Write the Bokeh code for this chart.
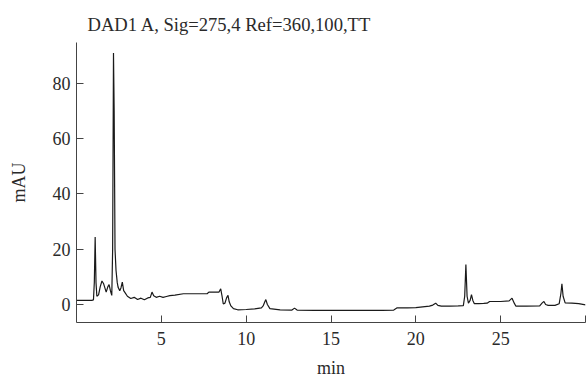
from bokeh.plotting import figure
from bokeh.models import Range1d, FixedTicker, Title
from bokeh.embed import file_html
from bokeh.resources import INLINE

# retention time (min) and absorbance (mAU)
time_min = [0.0, 0.9, 1.0, 1.05, 1.1, 1.15, 1.2, 1.3, 1.4, 1.5, 1.6, 1.75, 1.85, 1.92, 2.0, 2.08,
            2.13, 2.18, 2.22, 2.27, 2.33, 2.4, 2.45, 2.55, 2.62, 2.7, 2.78, 2.86, 3.0, 3.2, 3.4,
            3.6, 3.8, 4.0, 4.2, 4.35, 4.45, 4.55, 4.7, 4.9, 5.1, 5.3, 5.5, 5.8, 6.3, 7.0, 7.7,
            7.8, 8.4, 8.5, 8.58, 8.65, 8.75, 8.85, 8.93, 9.0, 9.1, 9.25, 9.5, 10.0, 10.5, 10.9,
            11.0, 11.1, 11.16, 11.25, 11.4, 12.0, 12.7, 12.85, 13.0, 14.0, 15.0, 16.0, 17.0,
            18.0, 18.7, 18.9, 19.5, 20.0, 20.8, 21.0, 21.17, 21.3, 21.5, 22.0, 22.5, 22.8,
            22.88, 22.95, 23.02, 23.1, 23.2, 23.28, 23.36, 23.45, 23.7, 24.0, 24.2, 24.35,
            25.0, 25.5, 25.67, 25.8, 25.9, 26.5, 27.3, 27.45, 27.55, 27.65, 27.8, 28.2, 28.45,
            28.55, 28.61, 28.68, 28.8, 29.2, 29.6, 30.0]
mau = [1.5, 1.5, 1.7, 8, 24.4, 8, 3, 3.5, 6.5, 8.5, 7.5, 4.5, 6.5, 7.2, 5, 3.3,
       20, 91, 70, 20, 12.3, 8, 6.3, 5, 6, 8.1, 5, 4.3, 3, 2.2, 2.6,
       1.8, 2.3, 1.7, 2.4, 2.6, 4.5, 3.2, 2.6, 3.0, 2.6, 2.9, 3.2, 3.4, 3.9, 3.9, 3.9,
       4.5, 4.5, 5.7, 3, 0.2, 0.5, 2.5, 3.3, 1.0, -0.5, -1.5, -1.9, -1.8, -1.6, -1.2,
       -0.5, 1.0, 1.8, 0, -1.5, -1.9, -2.0, -1.3, -2.0, -2.1, -2.1, -2.1, -2.1,
       -2.1, -2.0, -1.2, -1.2, -1.1, -0.6, -0.2, 0.5, -0.3, -0.6, -0.6, -0.5, -0.4,
       3, 14.5, 3, 0.5, 1.5, 3.6, 1.5, 0.3, 0.3, 0.4, 0.5, 1.1,
       1.1, 1.3, 2.3, 0.5, -0.6, -0.6, -0.5, 0.6, 1.1, 0, -0.3, -0.3, 0.3,
       4, 7.5, 3, 0.6, 0.5, 0.3, -0.1]

x_ticks = [5, 10, 15, 20, 25, 30]
y_ticks = [0, 20, 40, 60, 80]
title_text = "DAD1 A, Sig=275,4 Ref=360,100,TT"
x_label = "min"
y_label = "mAU"

FONT = "Liberation Serif"
TXT = "#2a2a2a"

p = figure(width=587, height=381, output_backend="svg", toolbar_location=None,
           x_range=Range1d(0, 30), y_range=Range1d(-6.5, 94.8),
           min_border_left=76, min_border_right=2, min_border_top=42, min_border_bottom=59)
p.outline_line_color = None
p.grid.visible = False
p.background_fill_color = "white"
p.border_fill_color = "white"

t = Title(text=title_text, align="left", offset=11, text_font=FONT,
          text_font_size="18.6px", text_font_style="normal", text_color=TXT, standoff=16)
p.add_layout(t, "above")

p.line(time_min, mau, line_color="#1a1a1a", line_width=1.2)

for ax in (p.xaxis[0], p.yaxis[0]):
    ax.major_label_text_font = FONT
    ax.major_label_text_font_size = "18px"
    ax.major_label_text_color = TXT
    ax.axis_label_text_font = FONT
    ax.axis_label_text_font_size = "18px"
    ax.axis_label_text_font_style = "normal"
    ax.axis_label_text_color = TXT
    ax.axis_line_color = "#444444"
    ax.major_tick_line_color = "#444444"
    ax.major_tick_in = 7
    ax.major_tick_out = 0
    ax.minor_tick_line_color = None

p.xaxis.ticker = FixedTicker(ticks=x_ticks)
p.xaxis.major_label_overrides = {30: ""}
p.xaxis.major_label_standoff = 9
p.xaxis.axis_label = x_label
p.xaxis.axis_label_standoff = 10

p.yaxis.ticker = FixedTicker(ticks=y_ticks)
p.yaxis.major_label_standoff = 6
p.yaxis.axis_label = y_label
p.yaxis.axis_label_standoff = 21

open("out.html", "w").write(file_html(p, INLINE))
